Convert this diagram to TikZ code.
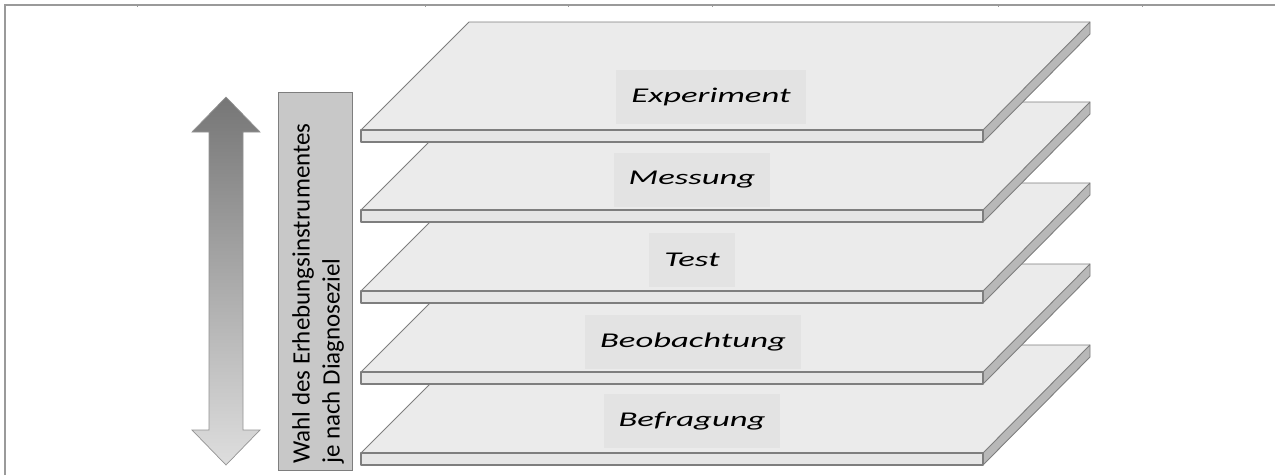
\documentclass[tikz,border=0pt]{standalone}
\usepackage{fontspec}
\setmainfont{Carlito}
\usetikzlibrary{shapes.arrows}
\definecolor{frameC}{HTML}{9A9A9A}
\definecolor{plateTop}{HTML}{EBEBEB}
\definecolor{plateFront}{HTML}{E6E6E6}
\definecolor{plateSide}{HTML}{B8B8B8}
\definecolor{plateLine}{HTML}{7E7E7E}
\definecolor{labBox}{HTML}{E3E3E3}
\definecolor{sideBox}{HTML}{C8C8C8}
\definecolor{arrTop}{HTML}{767676}
\definecolor{arrBot}{HTML}{DEDEDE}
\tikzset{
  platetop/.style={fill=plateTop,draw=plateLine,line width=0.9pt,line join=round},
  platefront/.style={fill=plateFront,draw=plateLine,line width=1.1pt,line join=round},
  plateside/.style={fill=plateSide,draw=plateLine,line width=0.9pt,line join=round},
  lab/.style={fill=labBox,inner xsep=15pt,inner ysep=0pt,minimum height=54pt,
    font=\fontsize{21}{24}\selectfont\itshape},
}
\newcommand{\plate}[1]{%
  \fill[plateTop] (361,#1) -- (469,#1-108) -- (1090,#1-108) -- (983,#1) -- cycle;
  \draw[platetop] (361,#1) -- (469,#1-108) -- (1090,#1-108);
  \draw[plateside] (983,#1) -- (1090,#1-108) -- (1090,#1-96) -- (983,#1+12) -- cycle;
  \draw[platefront] (361,#1) rectangle (983,#1+12);
}
\begin{document}
\begin{tikzpicture}[x=1pt,y=-1pt]
\useasboundingbox (0,0) rectangle (1275,475);
\fill[white] (0,0) rectangle (1275,475);
% frame
\draw[frameC,line width=1.6pt] (5,475) -- (5,5) -- (1275,5);
\foreach \tx in {137,425,568,712,998,1142}
  \draw[frameC,line width=0.8pt] (\tx,5) -- (\tx,7);
% plates, bottom to top
\plate{453}
\node[lab] (befragung) at (692,421) {\scalebox{1.65}[1]{Befragung}};
\plate{372}
\node[lab] (beobachtung) at (693,342) {\scalebox{1.65}[1]{Beobachtung}};
\plate{291}
\node[lab] (test) at (692,260) {\scalebox{1.65}[1]{Test}};
\plate{210}
\node[lab] (messung) at (692,180) {\scalebox{1.65}[1]{Messung}};
\plate{130}
\node[lab] (experiment) at (711,97) {\scalebox{1.65}[1]{Experiment}};
% double arrow
\shade[top color=arrTop,bottom color=arrBot,draw=gray!85,line width=0.7pt]
  (226,97) -- (260,132) -- (243,132) -- (243,430) -- (260,430) -- (226,465)
  -- (192,430) -- (209,430) -- (209,132) -- (192,132) -- cycle;
% side text box
\node[fill=sideBox,draw=plateLine,line width=0.9pt,minimum width=74pt,minimum height=378pt,
  inner sep=0pt] (sidebox) at (315,281) {};
\node[rotate=90,anchor=west,align=left,inner sep=0pt,font=\fontsize{25}{30}\selectfont]
  (sidetext) at (318,464) {Wahl des Erhebungsinstrumentes\\je nach Diagnoseziel};
\end{tikzpicture}
\end{document}
